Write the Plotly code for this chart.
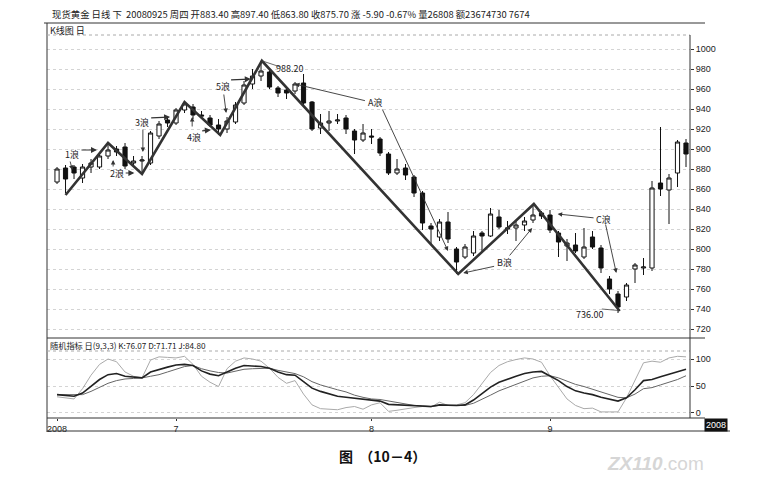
import plotly.graph_objects as go

# ---------------- data ----------------
opens  = [867, 881, 882, 871, 882, 882, 893, 900, 902, 886, 888, 886, 913, 929, 926, 939, 942, 934, 931, 924,
          920, 927, 946, 965, 973, 977, 961, 959, 958, 966, 947, 921, 926, 928, 931, 918, 909, 913, 910, 895,
          876, 881, 872, 856, 823, 812, 827, 800, 792, 796, 816, 813, 832, 820, 821, 824, 829, 836, 834, 816,
          803, 804, 792, 812, 801, 770, 755, 752, 780, 781, 781, 866, 859, 876, 906]
highs  = [882, 884, 884, 885, 890, 897, 906, 903, 906, 893, 893, 918, 928, 931, 941, 947, 945, 938, 934, 930,
          932, 947, 968, 980, 988.2, 980, 963, 962, 967, 975, 948, 935, 938, 935, 934, 920, 925, 920, 912, 897,
          890, 885, 874, 858, 826, 830, 837, 802, 805, 818, 818, 841, 839, 828, 828, 832, 845, 838, 839, 818,
          810, 816, 821, 818, 804, 773, 758, 766, 786, 791, 868, 922, 875, 909, 910]
lows   = [865, 856, 870, 866, 876, 880, 890, 893, 880, 882, 875, 884, 910, 922, 924, 936, 930, 930, 922, 914,
          916, 925, 944, 960, 968, 960, 952, 950, 955, 943, 918, 915, 918, 925, 915, 895, 907, 905, 893, 874,
          874, 869, 852, 819, 804, 808, 806, 775, 790, 793, 797, 812, 820, 815, 808, 818, 826, 830, 816, 792,
          788, 796, 790, 800, 776, 755, 736, 748, 766, 774, 778, 853, 825, 862, 882]
closes = [880, 870, 876, 882, 886, 893, 899, 897, 883, 888, 889, 916, 925, 926, 939, 945, 934, 933, 924, 920,
          928, 944, 964, 973, 978, 962, 956, 956, 965, 946, 920, 926, 928, 929, 920, 909, 916, 912, 896, 876,
          880, 874, 856, 826, 820, 827, 810, 787, 802, 813, 813, 835, 822, 821, 824, 828, 834, 833, 819, 807,
          806, 798, 802, 802, 781, 760, 742, 764, 784, 782, 861, 860, 871, 907, 895]

k_vals = [34, 33, 31, 37, 50, 62, 71, 73, 68, 66, 65, 76, 81, 85, 89, 90, 88, 78, 72, 69,
          76, 83, 88, 87, 86, 83, 76, 71, 70, 58, 46, 40, 35, 31, 29, 27, 25, 23, 22, 16,
          15, 14, 13, 12, 12, 15, 14, 14, 15, 24, 36, 48, 57, 63, 68, 73, 76, 77, 69, 60,
          49, 41, 37, 34, 29, 25, 22, 28, 43, 60, 62, 67, 72, 77, 81]
d_vals = [34, 34, 33, 34, 40, 48, 55, 60, 63, 64, 65, 68, 71, 76, 81, 86, 88, 82, 78, 75,
          74, 77, 81, 82, 83, 83, 79, 76, 73, 67, 58, 52, 47, 43, 39, 33, 29, 26, 25, 22,
          19, 16, 14, 13, 12, 14, 14, 14, 14, 18, 25, 33, 41, 47, 54, 60, 65, 68, 69, 65,
          59, 53, 49, 44, 38, 33, 29, 28, 35, 45, 47, 52, 57, 62, 69]
j_vals = [30, 28, 26, 45, 70, 90, 100, 95, 76, 68, 65, 98, 104, 103, 102, 105, 90, 68, 57, 49,
          82, 96, 102, 100, 96, 83, 66, 55, 60, 35, 15, 8, 7, 6, 10, 12, 7, 15, 19, 3,
          5, 8, 10, 12, 11, 20, 14, 15, 19, 34, 55, 75, 88, 95, 99, 102, 100, 94, 69, 48,
          26, 14, 8, 9, 2, 2, 2, 28, 60, 93, 96, 94, 102, 105, 104]

# wave turning points (bar index, price)
wave_idx   = [1, 6, 10, 15, 19.2, 24.1, 47.2, 56.1, 66.2]
wave_price = [854, 906, 875, 947, 914, 988.2, 775, 845, 738]

month_tick_idx  = [0, 14, 37, 58]
month_tick_text = ["2008", "7", "8", "9"]

price_ticks = [720, 740, 760, 780, 800, 820, 840, 860, 880, 900, 920, 940, 960, 980, 1000]
kdj_ticks = [0, 50, 100]

header = ("现货黄金 日线 下  20080925 周四 开883.40 高897.40 低863.80 收875.70 涨 -5.90 -0.67% "
          "量26808 额23674730 7674")
kdj_label = "随机指标 日(9,3,3) K:76.07 D:71.71 J:84.80"

# ---------------- figure ----------------
W, H = 767, 485
def px(x):
    return x / W
def py(y):
    return 1 - y / H

CJK = "Noto Sans CJK SC"
NUM = "Liberation Sans"

x_idx = list(range(len(opens)))
xr = [-1.18, 74.47]

fig = go.Figure()
fig.add_trace(go.Candlestick(
    x=x_idx, open=opens, high=highs, low=lows, close=closes,
    increasing=dict(line=dict(color="#111", width=1), fillcolor="white"),
    decreasing=dict(line=dict(color="#111", width=1), fillcolor="#111"),
    whiskerwidth=0, showlegend=False, hoverinfo="skip", xaxis="x", yaxis="y"))

fig.add_trace(go.Scatter(x=wave_idx, y=wave_price, mode="lines",
                         line=dict(color="#333", width=2.6), showlegend=False,
                         hoverinfo="skip", xaxis="x", yaxis="y"))

fig.add_trace(go.Scatter(x=x_idx, y=j_vals, mode="lines", line=dict(color="#aaa", width=1),
                         showlegend=False, hoverinfo="skip", xaxis="x2", yaxis="y2"))
fig.add_trace(go.Scatter(x=x_idx, y=d_vals, mode="lines", line=dict(color="#666", width=1),
                         showlegend=False, hoverinfo="skip", xaxis="x2", yaxis="y2"))
fig.add_trace(go.Scatter(x=x_idx, y=k_vals, mode="lines", line=dict(color="#222", width=1.6),
                         showlegend=False, hoverinfo="skip", xaxis="x2", yaxis="y2"))

dom_x = [px(47), px(690)]
fig.update_layout(
    width=W, height=H, margin=dict(l=0, r=0, t=0, b=0),
    paper_bgcolor="white", plot_bgcolor="white",
    xaxis=dict(domain=dom_x, range=xr, anchor="y", showticklabels=False, showgrid=False,
               zeroline=False, rangeslider=dict(visible=False), showline=False),
    yaxis=dict(domain=[py(338), py(35)], range=[711, 1014], side="right", anchor="x",
               tickvals=price_ticks, ticks="outside", ticklen=3, tickcolor="#333",
               tickfont=dict(family=NUM, size=9, color="#222"),
               showgrid=True, gridcolor="#d4d4d4", griddash="dot", gridwidth=1,
               zeroline=False, showline=False),
    xaxis2=dict(domain=dom_x, range=xr, anchor="y2", tickvals=month_tick_idx,
                ticktext=month_tick_text, ticks="outside", ticklen=2, tickcolor="#333",
                tickfont=dict(family=NUM, size=9, color="#222"), showgrid=False,
                zeroline=False, showline=False),
    yaxis2=dict(domain=[py(418), py(350)], range=[-9.3, 116.7], side="right", anchor="x2",
                tickvals=kdj_ticks, ticks="outside", ticklen=3, tickcolor="#333",
                tickfont=dict(family=NUM, size=9, color="#222"),
                showgrid=True, gridcolor="#d4d4d4", griddash="dot", zeroline=False,
                showline=False),
)

# frame lines
lines = [
    (44, 23, 705, 23, "#333", "solid"),
    (47, 23, 47, 432, "#333", "solid"),
    (47, 35, 690, 35, "#aaa", "dot"),
    (47, 338, 705, 338, "#333", "solid"),
    (47, 351, 690, 351, "#aaa", "dot"),
    (47, 418, 705, 418, "#333", "solid"),
    (47, 431, 730, 431, "#333", "solid"),
    (690, 35, 690, 338, "#333", "solid"),
    (690, 338, 690, 418, "#333", "solid"),
]
shapes = []
for x0, y0, x1, y1, c, d in lines:
    shapes.append(dict(type="line", xref="paper", yref="paper", x0=px(x0), y0=py(y0),
                       x1=px(x1), y1=py(y1), line=dict(color=c, width=1, dash=d)))
# leader lines for extreme labels
shapes.append(dict(type="line", xref="x", yref="y", x0=24.1, y0=988.2, x1=26.3, y1=982,
                   line=dict(color="#444", width=0.8)))
shapes.append(dict(type="line", xref="x", yref="y", x0=64.1, y0=740, x1=66.1, y1=738.5,
                   line=dict(color="#444", width=0.8)))
fig.update_layout(shapes=shapes)

ann = []
def txt(x, y, s, size=9, anchor="center", ref="data", **kw):
    if ref == "data":
        ann.append(dict(x=x, y=y, xref="x", yref="y", text=s, showarrow=False,
                        font=dict(family=CJK, size=size, color="#222"), xanchor=anchor,
                        yanchor="middle", **kw))
    else:
        ann.append(dict(x=px(x), y=py(y), xref="paper", yref="paper", text=s, showarrow=False,
                        font=dict(family=CJK, size=size, color="#222"), xanchor=anchor,
                        yanchor="middle", **kw))

def arrow(tx, ty, hx, hy, w=0.9, head=2, size=1.0):
    ann.append(dict(x=hx, y=hy, ax=tx, ay=ty, xref="x", yref="y", axref="x", ayref="y",
                    text="", showarrow=True, arrowhead=head, arrowsize=size, arrowwidth=w,
                    arrowcolor="#333", standoff=0, startstandoff=0))

# wave labels
txt(1.8, 895, "1浪")
arrow(2.7, 899, 4.7, 899, w=1.2)
arrow(1.5, 889, 1.8, 879)
txt(7.1, 876, "2浪")
arrow(6.6, 881, 6.6, 889)
arrow(7.9, 876, 9.1, 876, w=1.2)
txt(10.0, 926, "3浪")
arrow(10.9, 931, 13.3, 932, w=1.2)
arrow(10.1, 921, 10.1, 897)
txt(16.1, 912, "4浪")
arrow(16.9, 918, 18.1, 919, w=1.2)
arrow(15.9, 921, 15.9, 932)
txt(19.5, 962, "5浪")
arrow(20.3, 969, 22.8, 970, w=1.2)
arrow(19.6, 956, 19.9, 936)
txt(27.3, 980, "988.20")
txt(37.4, 946, "A浪")
arrow(36.4, 948, 28.0, 965)
arrow(38.2, 941, 46.0, 798)
txt(52.7, 787, "B浪")
arrow(51.6, 783, 47.8, 776)
arrow(53.1, 792, 55.9, 821)
txt(64.3, 830, "C浪")
arrow(63.3, 831, 58.9, 835)
arrow(64.5, 826, 65.8, 776)
txt(62.6, 735, "736.00")

# header & panel labels
txt(50, 14, header, size=9.4, anchor="left", ref="paper")
txt(48, 31, "K线图 日", size=9, anchor="left", ref="paper")
txt(48, 345, kdj_label, size=8.2, anchor="left", ref="paper")
ann.append(dict(x=px(716), y=py(425), xref="paper", yref="paper", text="2008", showarrow=False,
                xanchor="center", yanchor="middle",
                font=dict(family=NUM, size=9, color="white"), bgcolor="#111", borderpad=1))
ann.append(dict(x=px(382), y=py(456), xref="paper", yref="paper", text="<b>图  （10－4）</b>",
                xanchor="center", yanchor="middle",
                showarrow=False, font=dict(family=CJK, size=14, color="#111")))
ann.append(dict(x=px(655), y=py(463), xref="paper", yref="paper", text="<b><i>ZX110</i></b>.com",
                xanchor="center", yanchor="middle",
                showarrow=False, font=dict(family=NUM, size=19, color="#d6d6d6")))
fig.update_layout(annotations=ann)

fig.write_html("out.html", config={"displayModeBar": False},
               post_script="document.body.style.margin='0';document.body.style.overflow='hidden';")
